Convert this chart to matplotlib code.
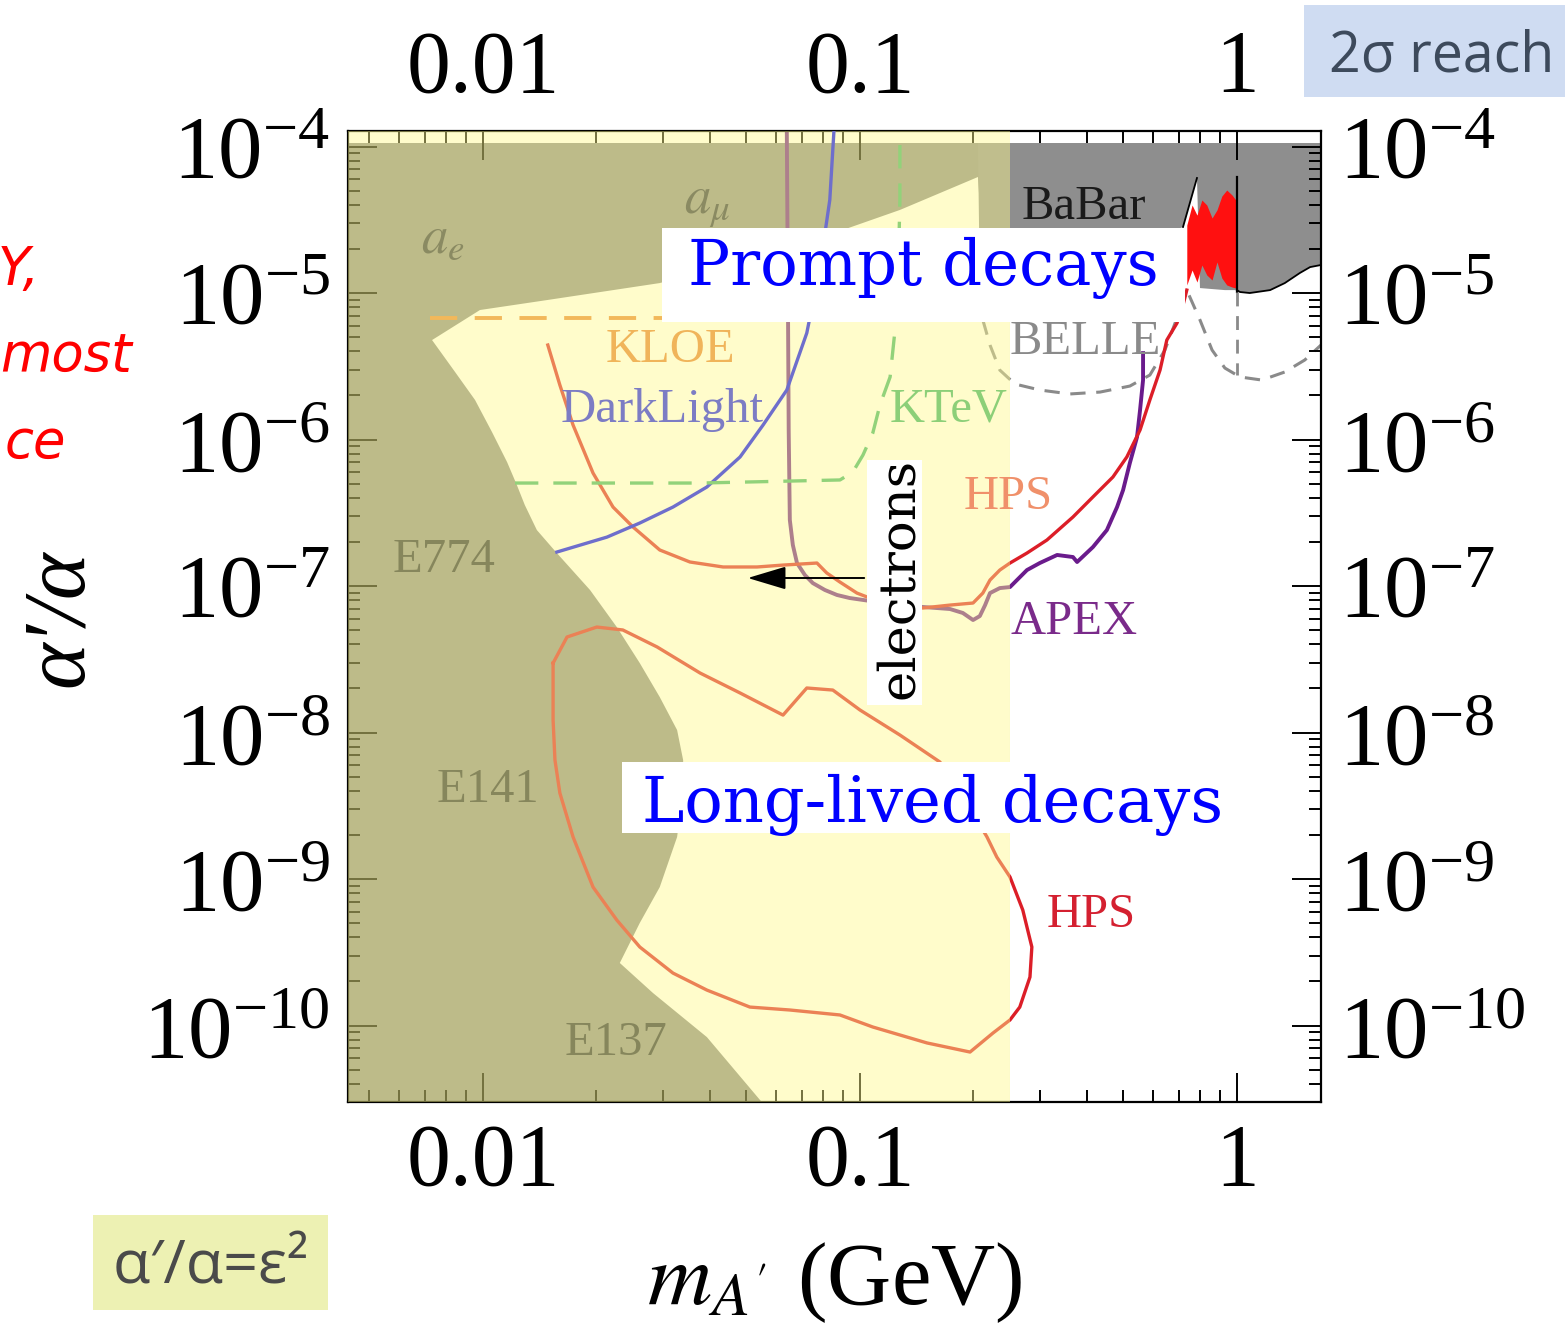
import numpy as np
import matplotlib.pyplot as plt
from matplotlib import ticker
from matplotlib.patches import Rectangle

plt.rcParams['font.family'] = ['Liberation Serif', 'DejaVu Serif']
plt.rcParams['mathtext.fontset'] = 'stix'

W, H = 1565, 1326

# all curves are given as log10(mass / GeV) and log10(alpha'/alpha)
allowed_lm = [-2.135, -2.008, -1.830, -1.531, -1.159, -0.894, -0.687, -0.676, -0.602,
              -0.602, -1.235, -1.406, -1.549, -1.637, -1.584, -1.531, -1.485, -1.469,
              -1.469, -1.485, -1.531, -1.584, -1.645, -1.716, -1.804, -1.857, -1.889,
              -1.910, -1.936, -1.976, -2.021, -2.074]
allowed_lr = [-5.321, -5.116, -5.048, -4.932, -4.672, -4.433, -4.208, -4.638, -4.706,
              -10.6, -10.6, -10.079, -9.778, -9.573, -9.300, -9.055, -8.713, -8.392,
              -8.188, -7.983, -7.758, -7.526, -7.280, -7.027, -6.775, -6.618, -6.447,
              -6.311, -6.154, -5.949, -5.730, -5.539]

babar_lm = [-0.687, 0.25, 0.25, 0.194, 0.167, 0.127, 0.088, 0.034, 0.008, 0.0, -0.032,
            -0.098, -0.106, -0.143, -0.363, -0.602, -0.682]
babar_lr = [-3.976, -3.976, -4.795, -4.823, -4.863, -4.932, -4.980, -5.000, -4.993, -4.980,
            -4.980, -4.966, -4.215, -4.549, -4.788, -4.911, -4.945]
babar_edge_lm = [-0.143, -0.106, np.nan, 0.0, 0.008, 0.034, 0.088, 0.127, 0.167, 0.194, 0.25]
babar_edge_lr = [-4.549, -4.215, np.nan, -4.980, -4.993, -5.000, -4.980, -4.932, -4.863,
                 -4.823, -4.795]
babar_veto_lm = [0.0, 0.0]
babar_veto_lr = [-4.208, -4.990]

red_lm = [-0.133, -0.119, -0.106, -0.093, -0.080, -0.066, -0.053, -0.040, -0.027, -0.013, -0.003]
red_top = [-4.536, -4.399, -4.468, -4.365, -4.399, -4.488, -4.433, -4.338, -4.297, -4.331, -4.365]
red_bot = [-4.945, -4.843, -4.925, -4.809, -4.877, -4.911, -4.788, -4.898, -4.945, -4.959, -4.966]

belle_lm = [-0.674, -0.655, -0.629, -0.589, -0.523, -0.443, -0.363, -0.284, -0.231, -0.191,
            -0.156, -0.133, -0.098, -0.066, -0.032, 0.008, 0.066, 0.127, 0.180, 0.223]
belle_lr = [-5.184, -5.355, -5.526, -5.621, -5.662, -5.689, -5.676, -5.635, -5.560, -5.389,
            -5.150, -4.980, -5.184, -5.389, -5.512, -5.573, -5.594, -5.539, -5.457, -5.355]
belle_veto_lm = [0.0, 0.0]
belle_veto_lr = [-4.990, -5.560]

apex_lm = [-1.194, -1.191, -1.189, -1.186, -1.178, -1.167, -1.146, -1.125, -1.093, -1.061,
           -1.027, -0.973, -0.894, -0.833, -0.761, -0.727, -0.700, -0.682, -0.668, -0.655,
           -0.629, -0.602, -0.557, -0.523, -0.477, -0.435, -0.424, -0.382, -0.345, -0.318,
           -0.302, -0.284, -0.265, -0.257, -0.249, -0.249]
apex_lr = [-3.900, -5.048, -5.935, -6.549, -6.720, -6.843, -6.925, -6.980, -7.027, -7.061,
           -7.082, -7.102, -7.130, -7.143, -7.157, -7.184, -7.232, -7.205, -7.130, -7.048,
           -7.014, -7.007, -6.891, -6.843, -6.788, -6.802, -6.836, -6.734, -6.618, -6.461,
           -6.345, -6.160, -5.983, -5.799, -5.594, -5.410]

hps_prompt_lm = [-1.828, -1.796, -1.761, -1.708, -1.655, -1.602, -1.531, -1.451, -1.363,
                 -1.273, -1.204, -1.114, -1.088, -1.053, -1.008, -0.981, -0.907, -0.833,
                 -0.761, -0.700, -0.674, -0.655, -0.629, -0.602, -0.557, -0.504, -0.435,
                 -0.382, -0.329, -0.292, -0.257, -0.231, -0.204, -0.186, -0.159, -0.143, -0.133]
hps_prompt_lr = [-5.355, -5.628, -5.901, -6.229, -6.461, -6.597, -6.754, -6.836, -6.870,
                 -6.870, -6.857, -6.843, -6.911, -6.973, -7.048, -7.075, -7.130, -7.150,
                 -7.130, -7.116, -7.048, -6.959, -6.891, -6.843, -6.775, -6.686, -6.529,
                 -6.392, -6.256, -6.119, -5.935, -5.730, -5.526, -5.321, -5.205, -5.082, -4.980]

hps_displaced_lm = [-1.814, -1.777, -1.698, -1.629, -1.538, -1.424, -1.318, -1.204, -1.141,
                    -1.072, -1.000, -0.894, -0.788, -0.721, -0.663, -0.637, -0.602, -0.568,
                    -0.544, -0.549, -0.576, -0.602, -0.647, -0.708, -0.822, -0.966, -1.053,
                    -1.186, -1.292, -1.406, -1.496, -1.584, -1.645, -1.708, -1.761, -1.796,
                    -1.809, -1.814, -1.814]
hps_displaced_lr = [-7.526, -7.348, -7.280, -7.300, -7.416, -7.594, -7.730, -7.881, -7.696,
                    -7.710, -7.846, -8.017, -8.201, -8.461, -8.713, -8.850, -8.986, -9.212,
                    -9.464, -9.669, -9.874, -9.962, -10.051, -10.181, -10.119, -10.010, -9.928,
                    -9.894, -9.874, -9.758, -9.642, -9.464, -9.280, -9.055, -8.713, -8.413,
                    -8.188, -7.915, -7.526]

darklight_lm = [-1.804, -1.671, -1.584, -1.496, -1.406, -1.318, -1.257, -1.194, -1.141,
                -1.106, -1.080, -1.069]
darklight_lr = [-6.768, -6.666, -6.570, -6.461, -6.324, -6.119, -5.901, -5.662, -5.273,
                -4.823, -4.365, -3.894]

ktev_lm = [-1.915, -1.690, -1.424, -1.053, -1.019, -0.992, -0.966, -0.947, -0.920, -0.907,
           -0.899, -0.894, -0.894]
ktev_lr = [-6.297, -6.297, -6.297, -6.276, -6.222, -6.106, -5.956, -5.765, -5.573, -5.253,
           -4.911, -4.365, -3.976]

kloe_lm = [-2.141, -0.629]
kloe_lr = [-5.171, -5.171]

x_lim_log = [-2.358, 0.223]
y_lim_log = [-10.522, -3.894]
mass_cut = 0.25      # right edge of the yellow overlay
frame_top_log = -3.976

GRAY = '#888888'
RED = '#dc1e28'
PURPLE = '#6a1b8c'


def pw(lm, lr):
    return 10 ** np.array(lm, dtype=float), 10 ** np.array(lr, dtype=float)


def fpx(x, y):
    return x / W, 1 - y / H


fig = plt.figure(figsize=(W / 100, H / 100), dpi=100)
ax = fig.add_axes([348 / W, 1 - 1102 / H, (1321 - 348) / W, (1102 - 131) / H])
ax.set_xscale('log')
ax.set_yscale('log')
ax.set_xlim(10 ** x_lim_log[0], 10 ** x_lim_log[1])
ax.set_ylim(10 ** y_lim_log[0], 10 ** y_lim_log[1])

# excluded regions (grey) and allowed window
ax.fill_between([10 ** x_lim_log[0], mass_cut], 10 ** y_lim_log[0], 10 ** frame_top_log,
                color=GRAY, lw=0, zorder=0.2)
ax.fill(*pw(allowed_lm, allowed_lr), color='white', lw=0, zorder=0.3)
ax.fill(*pw(babar_lm, babar_lr), color='#8e8e8e', lw=0, zorder=0.4)
m, lo = pw(red_lm, red_bot)
_, hi = pw(red_lm, red_top)
ax.fill_between(m, lo, hi, color='#ff1010', lw=0, zorder=0.5)
ax.plot(*pw(babar_edge_lm, babar_edge_lr), color='black', lw=1.3, zorder=0.6)
ax.plot(*pw(babar_veto_lm, babar_veto_lr), color='black', lw=1.6, zorder=0.6)

# curves beneath the overlay
ax.plot(*pw(belle_lm, belle_lr), color='#8a8a8a', lw=2.2, ls=(0, (5, 3.5)), zorder=1)
ax.plot(*pw(belle_veto_lm, belle_veto_lr), color='#8a8a8a', lw=2.0, ls=(0, (5, 3.5)), zorder=1)
ax.plot(*pw(apex_lm, apex_lr), color=PURPLE, lw=2.8, zorder=1.2)
ax.plot(*pw(hps_prompt_lm, hps_prompt_lr), color=RED, lw=2.4, zorder=1.3)
ax.plot(*pw(hps_displaced_lm, hps_displaced_lr), color=RED, lw=2.4, zorder=1.3)

# the yellow overlay on the low-mass part
ax.axvspan(10 ** x_lim_log[0], mass_cut, color=(1.0, 0.98, 0.55), alpha=0.45, lw=0, zorder=2.6)

# curves on top of the overlay
ax.plot(*pw(darklight_lm, darklight_lr), color='#6e6ecc', lw=2.4, zorder=3)
ax.plot(*pw(ktev_lm, ktev_lr), color='#92d27a', lw=2.4, ls=(0, (7, 4.5)), zorder=3)
ax.plot(*pw(kloe_lm, kloe_lr), color='#f2b85a', lw=2.8, ls=(0, (7, 4.5)), zorder=3)

# axes, ticks
for s in ax.spines.values():
    s.set_linewidth(1.6)
ax.tick_params(which='both', direction='in', top=True, right=True,
               labeltop=True, labelright=True, width=1.4, colors='black')
ax.tick_params(which='major', length=21)
ax.tick_params(which='minor', length=8.5)
ax.tick_params(axis='x', labelsize=63, pad=15)
ax.tick_params(axis='y', labelsize=64, pad=13)
ax.xaxis.set_major_locator(ticker.LogLocator(base=10, numticks=20))
ax.xaxis.set_minor_locator(ticker.LogLocator(base=10, subs=np.arange(2, 10), numticks=50))
ax.xaxis.set_major_formatter(ticker.FuncFormatter(lambda v, _: f'{v:g}'))
ax.xaxis.set_minor_formatter(ticker.NullFormatter())
ax.yaxis.set_major_locator(ticker.LogLocator(base=10, numticks=20))
ax.yaxis.set_minor_locator(ticker.LogLocator(base=10, subs=np.arange(2, 10), numticks=50))
ax.yaxis.set_major_formatter(ticker.LogFormatterMathtext())
ax.yaxis.set_minor_formatter(ticker.NullFormatter())

# labels inside the plot (axes fractions)
lab_kw = dict(transform=ax.transAxes, ha='center', va='center', fontsize=35, zorder=4)
ax.text(0.0976, 0.888, r'$a_e$', color='#8a8a62', fontsize=38,
        transform=ax.transAxes, ha='center', va='center', zorder=4)
ax.text(0.369, 0.924, r'$a_\mu$', color='#8a8a62', fontsize=38,
        transform=ax.transAxes, ha='center', va='center', zorder=4)
ax.text(0.0987, 0.558, 'E774', color='#86865c', **lab_kw)
ax.text(0.1439, 0.3213, 'E141', color='#86865c', **lab_kw)
ax.text(0.2754, 0.0608, 'E137', color='#86865c', **lab_kw)
ax.text(0.331, 0.7745, 'KLOE', color='#f0b45a', **lab_kw)
ax.text(0.3227, 0.7127, 'DarkLight', color='#7c7cc4', **lab_kw)
ax.text(0.6177, 0.7127, 'KTeV', color='#8ccf78', **lab_kw)
ax.text(0.6783, 0.6231, 'HPS', color='#f0906a', **lab_kw)
ax.text(0.7564, 0.9217, 'BaBar', color='#1a1a1a', **lab_kw)
ax.text(0.7575, 0.7830, 'BELLE', color='#8a8a8a', **lab_kw)
ax.text(0.7461, 0.4943, 'APEX', color='#7a2a8a', **lab_kw)
ax.text(0.7636, 0.1926, 'HPS', color='#d42030', **lab_kw)

# axis titles
fig.text(*fpx(60, 618), "α′/α", rotation=90, fontsize=64, style='italic',
         family=['Liberation Serif', 'DejaVu Serif'], ha='center', va='center')
fig.text(*fpx(835, 1304), r"$m_{A'}$ (GeV)", fontsize=64, ha='center', va='baseline')


def box(x0, y0, x1, y1, color):
    fig.add_artist(Rectangle((x0 / W, 1 - y1 / H), (x1 - x0) / W, (y1 - y0) / H,
                             transform=fig.transFigure, facecolor=color,
                             edgecolor='none', zorder=5))


box(662, 228, 1185, 322, 'white')
box(622, 762, 1225, 833, 'white')
box(867, 460, 922, 705, 'white')
box(1304, 5, 1565, 97, '#cfdcf2')
box(93, 1215, 328, 1310, '#edf1b3')

fig.text(*fpx(923, 285), 'Prompt decays', family='DejaVu Serif', fontsize=45,
         color='#0000ff', ha='center', va='baseline', zorder=6)
fig.text(*fpx(933, 822), 'Long-lived decays', family='DejaVu Serif', fontsize=46,
         color='#0000ff', ha='center', va='baseline', zorder=6)
fig.text(*fpx(899, 578), 'electrons', family='DejaVu Serif', fontsize=37,
         rotation=90, ha='center', va='center', zorder=6)
fig.text(*fpx(1442, 72), '2σ reach', family=['Open Sans', 'DejaVu Sans'], fontsize=40,
         color='#3d4a5c', ha='center', va='baseline', zorder=6)
fig.text(*fpx(211, 1284), 'α′/α=ε²', family=['Open Sans', 'DejaVu Sans'], fontsize=44,
         color='#4a4a4a', ha='center', va='baseline', zorder=6)

ax.annotate('', xy=fpx(745, 578), xytext=fpx(867, 578), xycoords='figure fraction',
            textcoords='figure fraction',
            arrowprops=dict(arrowstyle='-|>,head_length=0.6,head_width=0.18',
                            mutation_scale=40, color='black', lw=1.4))

# cut-off red remark on the left edge
red_kw = dict(family='DejaVu Sans', style='italic', fontsize=38, color='#ff0000',
              ha='right', va='baseline')
fig.text(*fpx(40, 285), 'Y,', **red_kw)
fig.text(*fpx(132, 372), 'most', **red_kw)
fig.text(*fpx(66, 458), 'ce', **red_kw)

fig.savefig('out.png', dpi=100)
